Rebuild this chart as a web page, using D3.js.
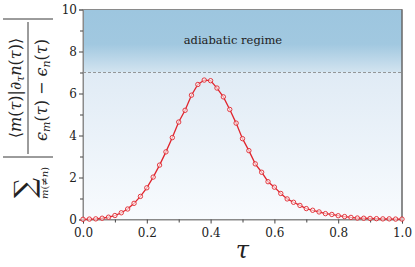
<!DOCTYPE html>
<html>
<head>
<meta charset="utf-8">
<script src="https://cdn.jsdelivr.net/npm/d3@7"></script>
<style>
  body { margin: 0; background: #fff; }
</style>
</head>
<body>
<svg id="svg"></svg>
<script>
const width = 415;
const height = 267;
const margin = {top: 9.5, right: 13, bottom: 47.5, left: 83};
const serif = "'DejaVu Serif', serif";

// data
const tau = [0.00, 0.02, 0.04, 0.06, 0.08, 0.10, 0.12, 0.14, 0.16, 0.18,
             0.20, 0.22, 0.24, 0.26, 0.28, 0.30, 0.32, 0.34, 0.36, 0.38,
             0.40, 0.42, 0.44, 0.46, 0.48, 0.50, 0.52, 0.54, 0.56, 0.58,
             0.60, 0.62, 0.64, 0.66, 0.68, 0.70, 0.72, 0.74, 0.76, 0.78,
             0.80, 0.82, 0.84, 0.86, 0.88, 0.90, 0.92, 0.94, 0.96, 0.98, 1.00];
const sumValues = [0.01, 0.02, 0.03, 0.06, 0.11, 0.19, 0.32, 0.50, 0.77, 1.10,
                   1.51, 2.02, 2.59, 3.22, 3.90, 4.64, 5.20, 5.92, 6.43, 6.64,
                   6.61, 6.26, 5.84, 5.24, 4.59, 3.85, 3.28, 2.65, 2.25, 1.80,
                   1.54, 1.24, 0.98, 0.82, 0.67, 0.52, 0.44, 0.36, 0.28, 0.24,
                   0.18, 0.14, 0.10, 0.07, 0.06, 0.05, 0.04, 0.03, 0.03, 0.02, 0.02];
const xTicks = [0, 0.2, 0.4, 0.6, 0.8, 1.0];
const xMinor = [0.1, 0.3, 0.5, 0.7, 0.9];
const yTicks = [0, 2, 4, 6, 8, 10];
const yMinor = [1, 3, 5, 7, 9];
const adiabaticLevel = 7;

const points = tau.map((t, i) => ({t: t, v: sumValues[i]}));

const svg = d3.select("#svg")
    .attr("width", width)
    .attr("height", height);

const x = d3.scaleLinear().domain([0, 1]).range([margin.left, width - margin.right]);
const y = d3.scaleLinear().domain([0, 10]).range([height - margin.bottom, margin.top]);

const defs = svg.append("defs");

const lowGrad = defs.append("linearGradient")
    .attr("id", "lowGrad").attr("x1", 0).attr("y1", 0).attr("x2", 0).attr("y2", 1);
lowGrad.append("stop").attr("offset", "0%").attr("stop-color", "#e0ebf5");
lowGrad.append("stop").attr("offset", "100%").attr("stop-color", "#f8fbfe");

const highGrad = defs.append("linearGradient")
    .attr("id", "highGrad").attr("x1", 0).attr("y1", 0).attr("x2", 0).attr("y2", 1);
highGrad.append("stop").attr("offset", "0%").attr("stop-color", "#9dc6df");
highGrad.append("stop").attr("offset", "55%").attr("stop-color", "#a1c8e0");
highGrad.append("stop").attr("offset", "100%").attr("stop-color", "#d3e4f0");

svg.append("rect")
    .attr("x", x(0)).attr("y", y(adiabaticLevel))
    .attr("width", x(1) - x(0)).attr("height", y(0) - y(adiabaticLevel))
    .style("fill", "url(#lowGrad)");

svg.append("rect")
    .attr("x", x(0)).attr("y", y(10))
    .attr("width", x(1) - x(0)).attr("height", y(adiabaticLevel) - y(10))
    .style("fill", "url(#highGrad)");

svg.append("line")
    .attr("x1", x(0)).attr("x2", x(1))
    .attr("y1", y(adiabaticLevel)).attr("y2", y(adiabaticLevel))
    .style("stroke", "#808080")
    .style("stroke-width", 0.8)
    .style("stroke-dasharray", "3,2");

svg.append("text")
    .attr("x", x(0.47)).attr("y", 44)
    .attr("text-anchor", "middle")
    .style("font-family", serif)
    .style("font-size", "11.5px")
    .style("fill", "#222")
    .text("adiabatic regime");

// frame
svg.append("rect")
    .attr("x", x(0)).attr("y", y(10))
    .attr("width", x(1) - x(0)).attr("height", y(0) - y(10))
    .style("fill", "none")
    .style("stroke", "#8a8a8a")
    .style("stroke-width", 1);
svg.append("line")
    .attr("x1", x(1)).attr("x2", x(1)).attr("y1", y(10)).attr("y2", y(0))
    .style("stroke", "#555").style("stroke-width", 1);

// axes
svg.append("g")
    .attr("transform", `translate(0,${y(0)})`)
    .call(d3.axisBottom(x).tickValues(xTicks).tickFormat(d3.format(".1f")).tickSize(4).tickPadding(5));
svg.append("g")
    .attr("transform", `translate(0,${y(0)})`)
    .call(d3.axisBottom(x).tickValues(xMinor).tickFormat("").tickSize(3))
    .select(".domain").remove();

svg.append("g")
    .attr("transform", `translate(${x(0)},0)`)
    .call(d3.axisLeft(y).tickValues(yTicks).tickSize(4).tickPadding(2));
svg.append("g")
    .attr("transform", `translate(${x(0)},0)`)
    .call(d3.axisLeft(y).tickValues(yMinor).tickFormat("").tickSize(3))
    .select(".domain").remove();

svg.selectAll(".domain").style("stroke", "#8a8a8a");
svg.selectAll(".tick line").style("stroke", "#444");
svg.selectAll(".tick text")
    .style("font-family", serif)
    .style("font-size", "12px")
    .style("fill", "#222");

// curve
const line = d3.line().x(d => x(d.t)).y(d => y(d.v));
svg.append("path")
    .datum(points)
    .attr("d", line)
    .style("fill", "none")
    .style("stroke", "#e0262e")
    .style("stroke-width", 1.3);

svg.append("g").selectAll("circle")
    .data(points)
    .enter().append("circle")
    .attr("cx", d => x(d.t))
    .attr("cy", d => y(d.v))
    .attr("r", 2.2)
    .style("fill", "#fff")
    .style("fill-opacity", 0.6)
    .style("stroke", "#e0262e")
    .style("stroke-width", 0.9);

// x label
svg.append("text")
    .attr("x", x(0.5)).attr("y", 258)
    .attr("text-anchor", "middle")
    .style("font-family", serif)
    .style("font-size", "24px")
    .style("font-style", "italic")
    .style("fill", "#222")
    .text("τ");

// y label, rotated
const yl = svg.append("g")
    .attr("transform", "rotate(-90)")
    .style("font-family", serif)
    .style("fill", "#222");

yl.append("text")
    .attr("x", -188).attr("y", 34)
    .attr("text-anchor", "middle")
    .style("font-size", "28px")
    .text("∑");

const sub = yl.append("text")
    .attr("x", -183).attr("y", 48)
    .attr("text-anchor", "middle")
    .style("font-size", "10px");
sub.append("tspan").style("font-style", "italic").text("m");
sub.append("tspan").text("(≠");
sub.append("tspan").style("font-style", "italic").text("n");
sub.append("tspan").text(")");

[-157, -19].forEach(u => {
  yl.append("line")
    .attr("x1", u).attr("x2", u).attr("y1", 3).attr("y2", 53)
    .style("stroke", "#222").style("stroke-width", 0.9);
});
yl.append("line")
    .attr("x1", -154).attr("x2", -22).attr("y1", 28).attr("y2", 28)
    .style("stroke", "#222").style("stroke-width", 0.9);

const num = yl.append("text")
    .attr("x", -88).attr("y", 21)
    .attr("text-anchor", "middle")
    .style("font-size", "16px");
num.append("tspan").text("⟨");
num.append("tspan").style("font-style", "italic").text("m");
num.append("tspan").text("(");
num.append("tspan").style("font-style", "italic").text("τ");
num.append("tspan").text(")|∂");
num.append("tspan").style("font-style", "italic").style("font-size", "11px").attr("dy", 3).text("τ");
num.append("tspan").style("font-style", "italic").attr("dy", -3).text("n");
num.append("tspan").text("(");
num.append("tspan").style("font-style", "italic").text("τ");
num.append("tspan").text(")⟩");

const den = yl.append("text")
    .attr("x", -90).attr("y", 47)
    .attr("text-anchor", "middle")
    .style("font-size", "16px");
den.append("tspan").style("font-style", "italic").text("ϵ");
den.append("tspan").style("font-style", "italic").style("font-size", "11px").attr("dy", 3).text("m");
den.append("tspan").attr("dy", -3).text("(");
den.append("tspan").style("font-style", "italic").text("τ");
den.append("tspan").text(") − ");
den.append("tspan").style("font-style", "italic").text("ϵ");
den.append("tspan").style("font-style", "italic").style("font-size", "11px").attr("dy", 3).text("n");
den.append("tspan").attr("dy", -3).text("(");
den.append("tspan").style("font-style", "italic").text("τ");
den.append("tspan").text(")");
</script>
</body>
</html>
